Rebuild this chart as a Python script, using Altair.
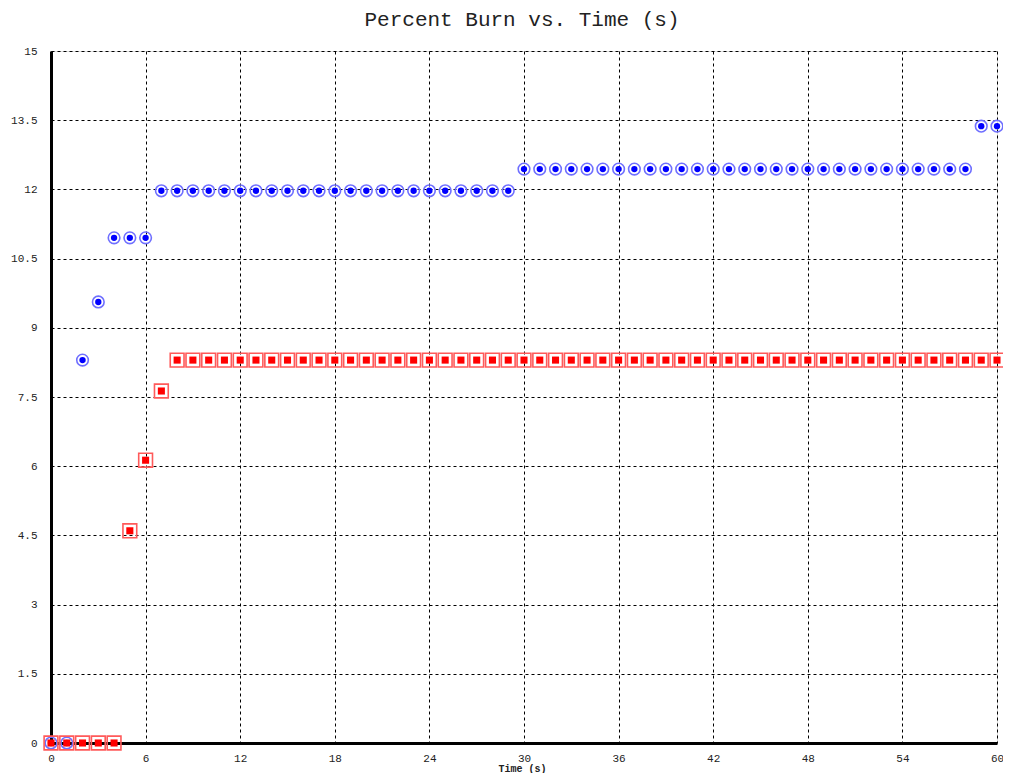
import altair as alt
import pandas as pd

# Time (s)
time_blue = [0, 1, 2, 3, 4, 5, 6, 7, 8, 9, 10, 11, 12, 13, 14, 15, 16, 17, 18, 19, 20,
             21, 22, 23, 24, 25, 26, 27, 28, 29, 30, 31, 32, 33, 34, 35, 36, 37, 38, 39, 40,
             41, 42, 43, 44, 45, 46, 47, 48, 49, 50, 51, 52, 53, 54, 55, 56, 57, 58, 59, 60]
burn_blue = [0, 0, 8.3, 9.56, 10.95, 10.95, 10.95,
             11.97, 11.97, 11.97, 11.97, 11.97, 11.97, 11.97, 11.97, 11.97, 11.97, 11.97,
             11.97, 11.97, 11.97, 11.97, 11.97, 11.97, 11.97, 11.97, 11.97, 11.97, 11.97, 11.97,
             12.44, 12.44, 12.44, 12.44, 12.44, 12.44, 12.44, 12.44, 12.44, 12.44, 12.44,
             12.44, 12.44, 12.44, 12.44, 12.44, 12.44, 12.44, 12.44, 12.44, 12.44, 12.44,
             12.44, 12.44, 12.44, 12.44, 12.44, 12.44, 12.44,
             13.37, 13.37]

time_red = [0, 1, 2, 3, 4, 5, 6, 7, 8, 9, 10, 11, 12, 13, 14, 15, 16, 17, 18, 19, 20,
            21, 22, 23, 24, 25, 26, 27, 28, 29, 30, 31, 32, 33, 34, 35, 36, 37, 38, 39, 40,
            41, 42, 43, 44, 45, 46, 47, 48, 49, 50, 51, 52, 53, 54, 55, 56, 57, 58, 59, 60]
burn_red = [0, 0, 0, 0, 0, 4.6, 6.13, 7.63,
            8.3, 8.3, 8.3, 8.3, 8.3, 8.3, 8.3, 8.3, 8.3, 8.3, 8.3, 8.3, 8.3,
            8.3, 8.3, 8.3, 8.3, 8.3, 8.3, 8.3, 8.3, 8.3, 8.3, 8.3, 8.3, 8.3,
            8.3, 8.3, 8.3, 8.3, 8.3, 8.3, 8.3, 8.3, 8.3, 8.3, 8.3, 8.3, 8.3,
            8.3, 8.3, 8.3, 8.3, 8.3, 8.3, 8.3, 8.3, 8.3, 8.3, 8.3, 8.3, 8.3, 8.3]

x_ticks = [0, 6, 12, 18, 24, 30, 36, 42, 48, 54, 60]
y_ticks = [0, 1.5, 3, 4.5, 6, 7.5, 9, 10.5, 12, 13.5, 15]

blue = pd.DataFrame({"t": time_blue, "v": burn_blue})
red = pd.DataFrame({"t": time_red, "v": burn_red})

FONT = "Liberation Mono"

x = alt.X("t:Q",
          scale=alt.Scale(domain=[0, 60], nice=False, zero=False),
          axis=alt.Axis(values=x_ticks, title="Time (s)", grid=True, ticks=False,
                        domainWidth=3, domainColor="black",
                        labelFont=FONT, labelFontSize=11, labelColor="#222",
                        labelPadding=9, labelFlush=False, labelOverlap=False,
                        labelExpr="'' + datum.value",
                        titleFont=FONT, titleFontSize=10, titleFontWeight="bold",
                        titleColor="#222", titleX=471, titleY=25,
                        titleBaseline="middle", titleAnchor="start",
                        titleAlign="center",
                        gridDash=[3, 3], gridColor="black", gridOpacity=1, gridWidth=1))
y = alt.Y("v:Q",
          scale=alt.Scale(domain=[0, 15], nice=False, zero=False),
          axis=alt.Axis(values=y_ticks, title=None, grid=True, ticks=False,
                        labelExpr="'' + datum.value",
                        domainWidth=3, domainColor="black",
                        labelFont=FONT, labelFontSize=11, labelColor="#222",
                        labelPadding=14, labelFlush=False, labelOverlap=False,
                        gridDash=[3, 3], gridColor="black", gridOpacity=1, gridWidth=1))

blue_outer = alt.Chart(blue).mark_point(shape="circle", filled=False, size=135,
                                        stroke="#6f6fff", strokeWidth=1.6, opacity=1
                                        ).encode(x=x, y=y)
blue_inner = alt.Chart(blue).mark_point(shape="circle", filled=True, size=40,
                                        color="#0000ff", opacity=1).encode(x=x, y=y)
red_outer = alt.Chart(red).mark_point(shape="square", filled=False, size=190,
                                      stroke="#ff5a5a", strokeWidth=1.6, opacity=1
                                      ).encode(x=x, y=y)
red_inner = alt.Chart(red).mark_point(shape="square", filled=True, size=50,
                                      color="#ff0000", opacity=1).encode(x=x, y=y)

chart = alt.layer(blue_outer, blue_inner, red_outer, red_inner).properties(
    width=946, height=692,
    title=alt.TitleParams("Percent Burn vs. Time (s)", font=FONT, fontSize=21,
                          fontWeight="normal", color="#222", anchor="middle",
                          baseline="alphabetic", offset=-2, dx=-2),
    autosize=alt.AutoSizeParams(type="none"),
    padding={"left": 43, "top": 43, "right": 6, "bottom": 30},
).configure_view(stroke=None).configure(background="white")

chart.save("out.html", embed_options={"renderer": "svg", "actions": False})
